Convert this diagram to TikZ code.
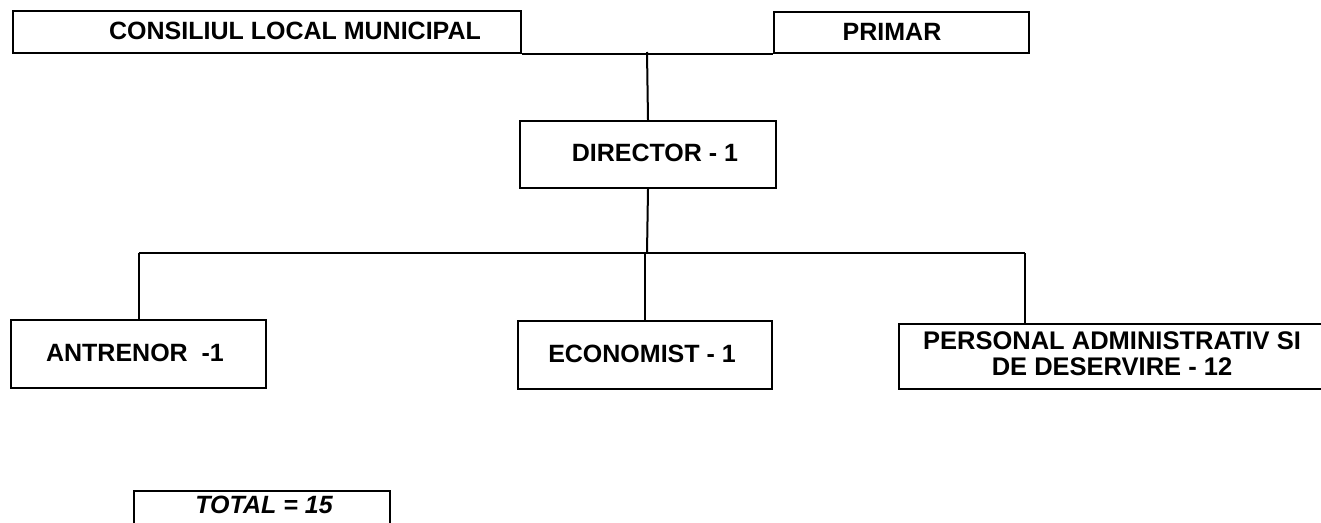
\documentclass[tikz,border=0pt]{standalone}
\usepackage{fontspec}
\setmainfont{Liberation Sans}
\begin{document}
\begin{tikzpicture}[x=1pt,y=-1pt,
  box/.style={draw,line width=2pt,inner sep=0pt,anchor=north west},
  lbl/.style={font=\fontsize{25}{26}\selectfont\bfseries,inner sep=0pt,align=center},
  conn/.style={line width=2pt}]
\useasboundingbox (0,0) rectangle (1321,522);
% boxes
\node[box,minimum width=508pt,minimum height=42pt] (clm) at (12,10) {};
\node[box,minimum width=255pt,minimum height=41pt] (primar) at (773,11) {};
\node[box,minimum width=256pt,minimum height=67pt] (dir) at (519,120) {};
\node[box,minimum width=255pt,minimum height=68pt] (ant) at (10,319) {};
\node[box,minimum width=254pt,minimum height=68pt] (eco) at (517,320) {};
\node[box,minimum width=430pt,minimum height=65pt] (pers) at (898,323) {};
\node[box,minimum width=256pt,minimum height=60pt] (tot) at (133,490) {};
% labels
\node[lbl] (tclm) at (295,31) {CONSILIUL LOCAL MUNICIPAL};
\node[lbl] (tprimar) at (892,32) {PRIMAR};
\node[lbl] (tdir) at (655,153) {DIRECTOR - 1};
\node[lbl] (tant) at (135,353) {ANTRENOR\ \ -1};
\node[lbl] (teco) at (642,354) {ECONOMIST - 1};
\node[lbl,font=\fontsize{25.5}{26}\selectfont\bfseries] (tpers) at (1112,354) {PERSONAL ADMINISTRATIV SI\\DE DESERVIRE - 12};
\node[lbl,font=\fontsize{25}{26}\selectfont\bfseries\itshape] (ttot) at (264,505) {TOTAL = 15};
% connectors
\coordinate (j1) at (647,52);
\coordinate (bus) at (647,253);
\coordinate (b3) at (1025,253);
\draw[conn] (clm.south east) -- (primar.south west);
\draw[conn] (j1) -- (dir.north);
\draw[conn] (dir.south) -- (bus);
\draw[conn] (ant.north |- bus) -- (b3);
\draw[conn] (ant.north |- bus) -- (ant.north);
\draw[conn] (eco.north |- bus) -- (eco.north);
\draw[conn] (b3) -- (b3 |- pers.north);
\end{tikzpicture}
\end{document}
